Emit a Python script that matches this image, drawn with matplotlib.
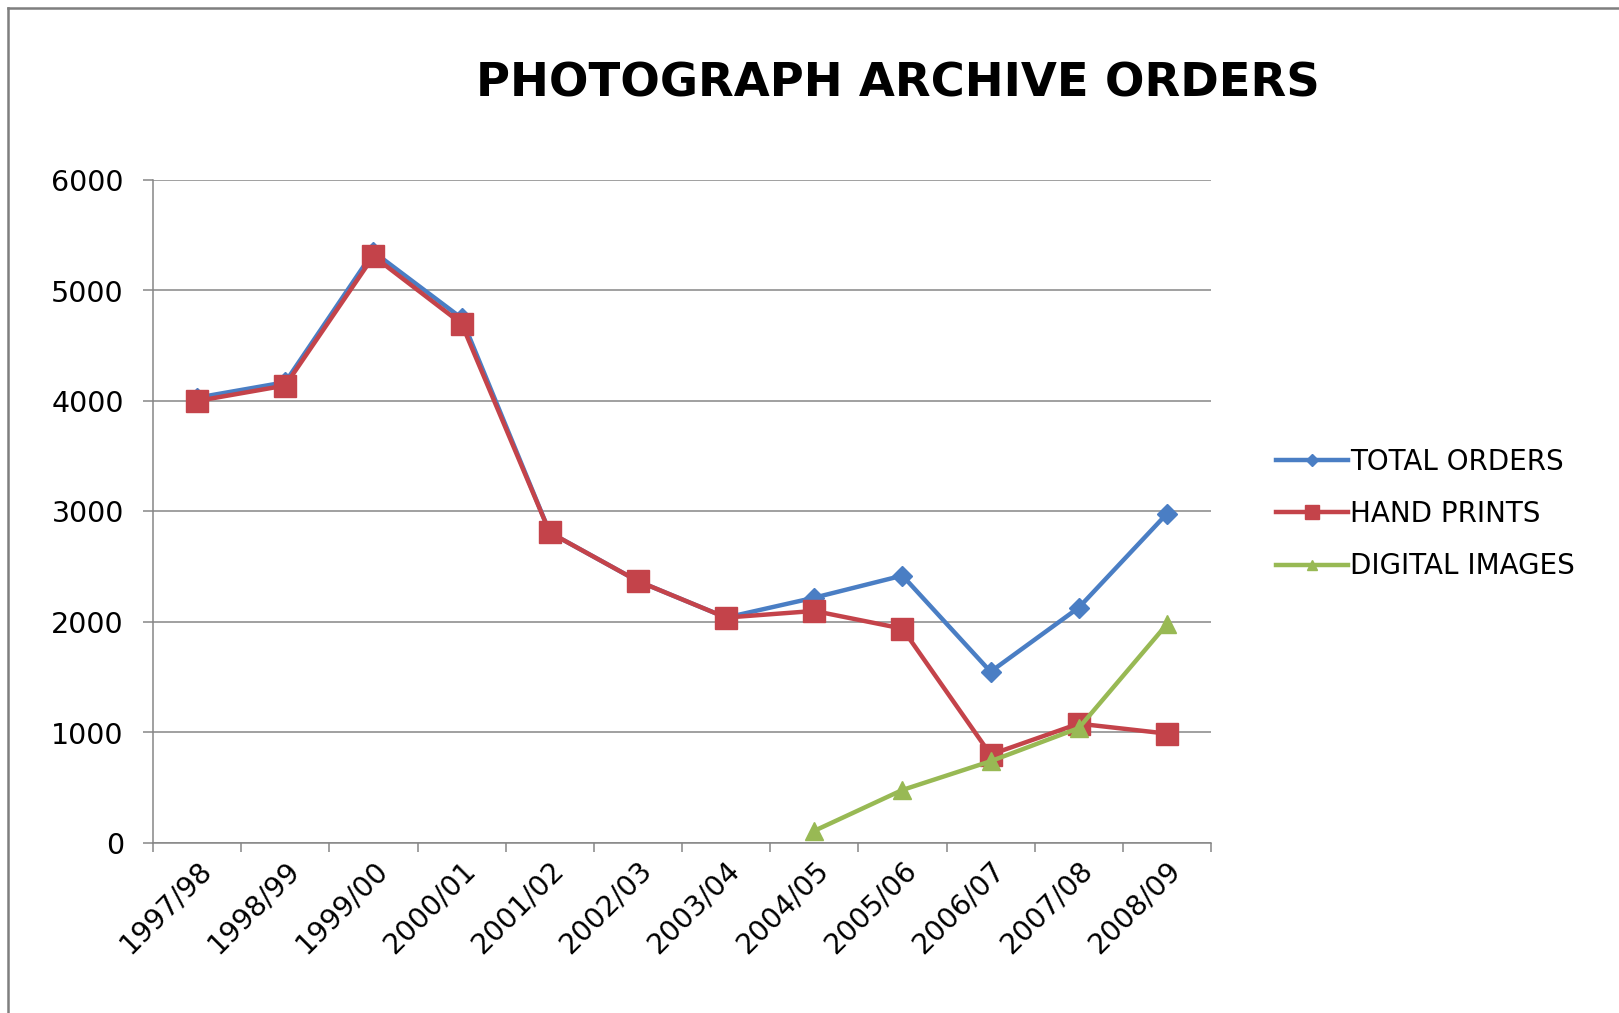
import numpy as np
import matplotlib
matplotlib.use("Agg")
import matplotlib.pyplot as plt
from matplotlib.lines import Line2D
from matplotlib.transforms import ScaledTranslation

years = ["1997/98", "1998/99", "1999/00", "2000/01", "2001/02", "2002/03",
         "2003/04", "2004/05", "2005/06", "2006/07", "2007/08", "2008/09"]
total_orders = [4030, 4170, 5350, 4750, 2810, 2370, 2040, 2220, 2420, 1550, 2130, 2980]
hand_prints = [4000, 4140, 5310, 4700, 2810, 2370, 2040, 2100, 1940, 800, 1080, 990]
digital_images = [np.nan, np.nan, np.nan, np.nan, np.nan, np.nan, np.nan,
                  110, 480, 740, 1040, 1980]
series_names = ["TOTAL ORDERS", "HAND PRINTS", "DIGITAL IMAGES"]
y_ticks = [0, 1000, 2000, 3000, 4000, 5000, 6000]

W, H = 1619, 1013
fig = plt.figure(figsize=(W / 100, H / 100), dpi=100)
fig.patch.set_facecolor("white")

L, R, T, B = 153, 1211, 180, 843
ax = fig.add_axes([L / W, 1 - B / H, (R - L) / W, (B - T) / H])

x = np.arange(len(years))
blue = "#4A7EC4"
red = "#C4434A"
green = "#98B954"

ax.plot(x, total_orders, color=blue, lw=3.2, marker="D", ms=10,
        mfc=blue, mec=blue, label=series_names[0], zorder=3)
ax.plot(x, hand_prints, color=red, lw=3.2, marker="s", ms=16,
        mfc=red, mec=red, label=series_names[1], zorder=4)
ax.plot(x, digital_images, color=green, lw=3.2, marker="^", ms=13,
        mfc=green, mec=green, label=series_names[2], zorder=5)

ax.set_xlim(-0.5, len(years) - 0.5)
ax.set_ylim(0, 6000)

grid_col = "#868686"
ax.set_yticks(y_ticks)
ax.set_yticklabels([str(v) for v in y_ticks])
ax.yaxis.grid(True, color=grid_col, lw=1.1)
ax.set_axisbelow(True)

ax.set_xticks(x)
ax.set_xticklabels(years, rotation=45, ha="right", va="center",
                   rotation_mode="anchor")
ax.set_xticks(np.arange(len(years) + 1) - 0.5, minor=True)
ax.tick_params(axis="x", which="major", length=0, pad=16, labelsize=20.3,
               colors="black")
ax.tick_params(axis="x", which="minor", length=6.5, width=1.1,
               color=grid_col, direction="out")
ax.tick_params(axis="y", which="major", length=7, width=1.1, color=grid_col,
               pad=14, labelsize=20.5, labelcolor="black", direction="out")

for s in ["top", "right"]:
    ax.spines[s].set_visible(False)
for s in ["left", "bottom"]:
    ax.spines[s].set_color(grid_col)
    ax.spines[s].set_linewidth(1.1)

offset = ScaledTranslation(10 / 100, 0, fig.dpi_scale_trans)
for lab in ax.get_xticklabels():
    lab.set_fontfamily("DejaVu Sans")
    lab.set_transform(lab.get_transform() + offset)
for lab in ax.get_yticklabels():
    lab.set_fontfamily("DejaVu Sans")

fig.text(898 / W, 1 - 84 / H, "PHOTOGRAPH ARCHIVE ORDERS", ha="center",
         va="center", fontsize=33.5, fontweight="bold",
         fontfamily="DejaVu Sans", color="black")

leg = fig.legend(loc="center left", bbox_to_anchor=(1276 / W, 1 - 514 / H),
                 frameon=False, fontsize=20, handlelength=2.6,
                 handletextpad=0.08, labelspacing=0.88, borderpad=0,
                 borderaxespad=0, markerscale=0.6)
for t in leg.get_texts():
    t.set_fontfamily("DejaVu Sans")

border_col = "#7F7F7F"
fig.add_artist(Line2D([8 / W, 8 / W], [0, 1 - 8 / H], transform=fig.transFigure,
                      color=border_col, lw=1.8))
fig.add_artist(Line2D([8 / W, 1], [1 - 8 / H, 1 - 8 / H], transform=fig.transFigure,
                      color=border_col, lw=1.8))

fig.savefig("out.png", dpi=100, facecolor="white")
